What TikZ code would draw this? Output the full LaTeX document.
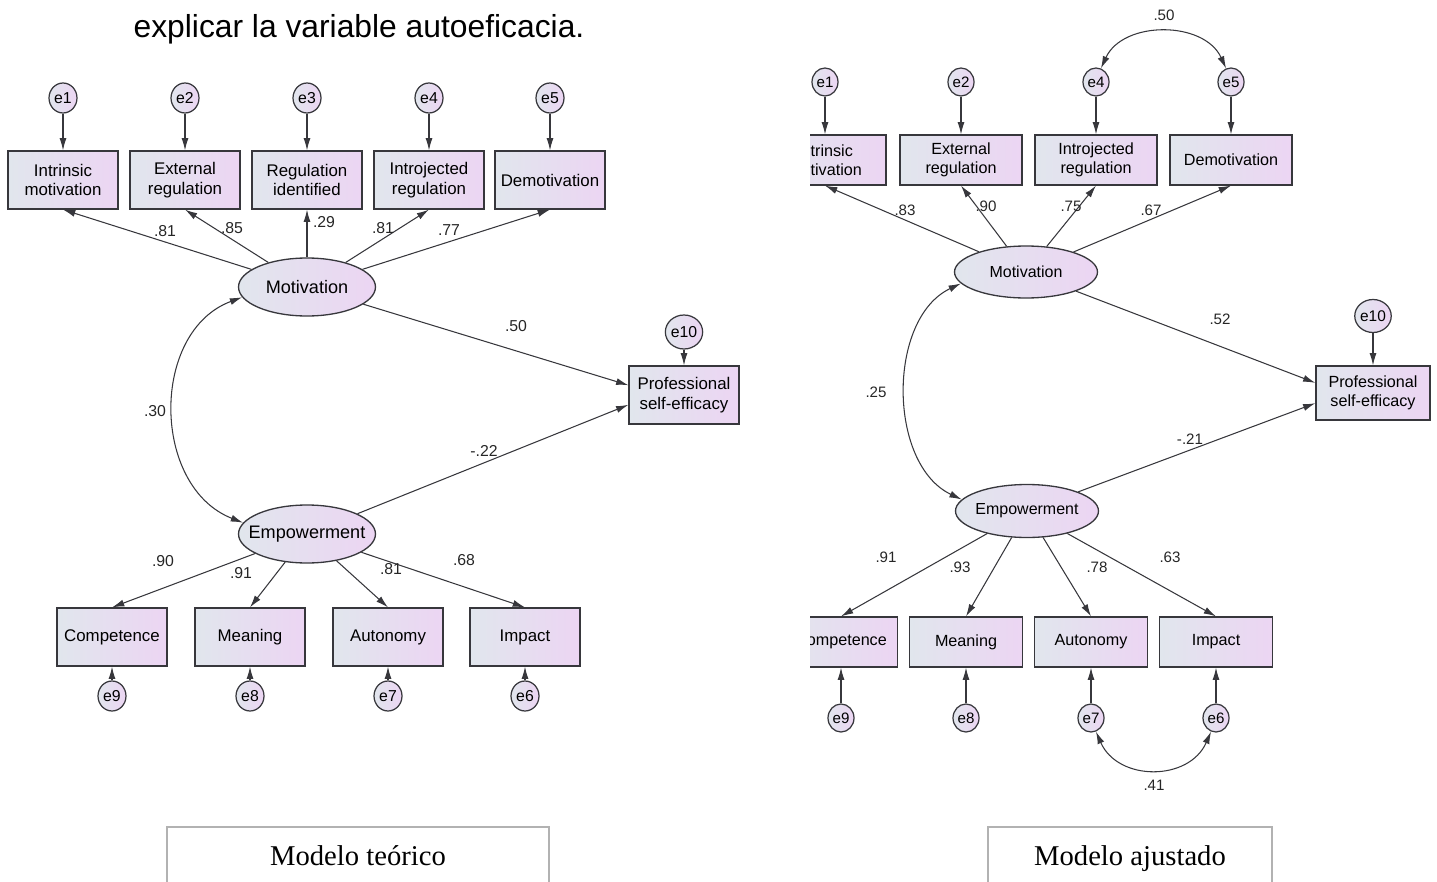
\documentclass[tikz,border=0pt]{standalone}
\usepackage{fontspec}
\setmainfont{Liberation Serif}
\newfontfamily\amosfont{Liberation Sans}
\usetikzlibrary{arrows.meta,shapes.geometric}

\definecolor{boxblue}{RGB}{225,230,237}
\definecolor{boxpink}{RGB}{236,213,243}
\definecolor{amosline}{RGB}{55,55,60}

\tikzset{
  obsbox/.style={draw=amosline, line width=0.7pt, left color=boxblue, right color=boxpink,
    minimum width=2.2cm, minimum height=1.16cm, align=center, inner sep=1pt,
    font=\amosfont\fontsize{9.6}{11.3}\selectfont},
  latent/.style={ellipse, draw=amosline, line width=0.75pt, left color=boxblue, right color=boxpink,
    minimum width=2.74cm, minimum height=1.16cm, inner sep=0pt,
    font=\amosfont\fontsize{10.3}{12}\selectfont},
  errc/.style={ellipse, draw=amosline, line width=0.7pt, left color=boxblue, right color=boxpink,
    minimum width=0.56cm, minimum height=0.6cm, inner sep=0pt,
    font=\amosfont\fontsize{9}{10}\selectfont},
  arr/.style={draw=amosline, line width=0.6pt, -{Latex[length=7pt,width=4pt]}},
  dbl/.style={draw=amosline, line width=0.6pt, {Latex[length=7pt,width=4pt]}-{Latex[length=7pt,width=4pt]}},
  coef/.style={font=\amosfont\fontsize{9}{10}\selectfont, text=black!85, inner sep=0pt},
  capline/.style={draw=black!30, line width=0.8pt}
}

\begin{document}
\begin{tikzpicture}[x=0.02cm, y=-0.02cm]
  \useasboundingbox (0,0) rectangle (1437,882);

  \node[anchor=base, font=\amosfont\fontsize{18.1}{20}\selectfont] (intro) at (359,38)
    {explicar la variable autoeficacia.};

  % ---- modelo teorico ----
  \node[latent] (Lmot) at (307,287) {\makebox[0pt]{Motivation}};
  \node[latent] (Lemp) at (307,534) {\makebox[0pt]{Empowerment}};

  \foreach \x/\n/\txt [count=\i] in {
    63/im/{Intrinsic\\motivation},
    185/er/{External\\regulation},
    307/ri/{Regulation\\identified},
    429/ir/{Introjected\\regulation},
    550/dm/{Demotivation}} {
    \node[obsbox] (L\n) at (\x,180) {\txt};
    \node[errc] (Le\i) at (\x,98) {e\i};
    \draw[arr] (Le\i) -- (L\n);
    \draw[arr] (Lmot) -- (L\n.south);
  }

  \foreach \x/\n/\txt/\e in {
    112/co/Competence/9,
    250/me/Meaning/8,
    388/au/Autonomy/7,
    525/ip/Impact/6} {
    \node[obsbox] (L\n) at (\x,637) {\txt};
    \node[errc] (Le\e) at (\x,696) {e\e};
    \draw[arr] (Le\e) -- (L\n);
    \draw[arr] (Lemp) -- (L\n.north);
  }

  \node[obsbox] (Lpse) at (684,395) {Professional\\self-efficacy};
  \node[errc, minimum width=0.68cm, minimum height=0.68cm] (Le10) at (684,332) {e10};
  \draw[arr] (Le10) -- (Lpse);
  \draw[arr] (Lmot) -- (Lpse.170);
  \draw[arr] (Lemp) -- (Lpse.190);
  \draw[dbl] (Lmot.189) .. controls +(-92,34) and +(-92,-36) .. (Lemp.170);

  \foreach \x/\y/\lab [count=\i] in {
    165/231/.81, 232/228/.85, 324/222/.29, 383/228/.81, 449/230/.77,
    516/326/.50, 484/451/{-.22}, 155/411/.30,
    163/561/.90, 241/573/.91, 391/569/.81, 464/560/.68} {
    \node[coef] (Lk\i) at (\x,\y) {\lab};
  }

  % ---- modelo ajustado ----
  \begin{scope}
    \clip (810,0) rectangle (1437,882);
    \node[latent, minimum width=2.86cm, minimum height=1.04cm,
      font=\amosfont\fontsize{9.1}{11}\selectfont] (Rmot) at (1026,272) {\makebox[0pt]{Motivation}};
    \node[latent, minimum width=2.86cm, minimum height=1.06cm,
      font=\amosfont\fontsize{9.1}{11}\selectfont] (Remp) at (1027,511) {\makebox[0pt]{Empowerment}};

    \foreach \x/\n/\txt/\e in {
      825/im/{Intrinsic\\motivation}/1,
      961/er/{External\\regulation}/2,
      1096/ir/{Introjected\\regulation}/4,
      1231/dm/{Demotivation}/5} {
      \node[obsbox, minimum width=2.44cm, minimum height=1cm,
        font=\amosfont\fontsize{9.2}{10.8}\selectfont] (R\n) at (\x,160) {\txt};
      \node[errc, minimum width=0.52cm, minimum height=0.56cm,
        font=\amosfont\fontsize{8.6}{10}\selectfont] (Re\e) at (\x,82) {e\e};
      \draw[arr] (Re\e) -- (R\n);
      \draw[arr] (Rmot) -- (R\n.south);
    }

    \foreach \x/\n/\txt/\e in {
      841/co/Competence/9,
      966/me/Meaning/8,
      1091/au/Autonomy/7,
      1216/ip/Impact/6} {
      \node[obsbox, minimum width=2.26cm, minimum height=1cm,
        font=\amosfont\fontsize{9.2}{10.8}\selectfont] (R\n) at (\x,642) {\txt};
      \node[errc, minimum width=0.52cm, minimum height=0.56cm,
        font=\amosfont\fontsize{8.6}{10}\selectfont] (Re\e) at (\x,718) {e\e};
      \draw[arr] (Re\e) -- (R\n);
      \draw[arr] (Remp) -- (R\n.north);
    }

    \node[obsbox, minimum width=2.28cm, minimum height=1.08cm,
      font=\amosfont\fontsize{9.2}{10.8}\selectfont] (Rpse) at (1373,393) {Professional\\self-efficacy};
    \node[errc, minimum width=0.66cm, minimum height=0.66cm,
      font=\amosfont\fontsize{8.8}{10}\selectfont] (Re10) at (1373,316) {e10};
    \draw[arr] (Re10) -- (Rpse);
    \draw[arr] (Rmot) -- (Rpse.170);
    \draw[arr] (Remp) -- (Rpse.190);
    \draw[dbl] (Rmot.190) .. controls +(-74,35) and +(-74,-35) .. (Remp.170);
    \draw[dbl] (Re4.70) .. controls +(22,-48) and +(-22,-48) .. (Re5.110);
    \draw[dbl] (Re7.-70) .. controls +(22,50) and +(-22,50) .. (Re6.-110);

    \foreach \x/\y/\lab [count=\i] in {
      905/210/.83, 986/206/.90, 1071/206/.75, 1151/210/.67,
      1220/319/.52, 1190/439/{-.21}, 876/392/.25, 1164/15/.50,
      886/557/.91, 960/567/.93, 1097/567/.78, 1170/557/.63, 1154/785/.41} {
      \node[coef, font=\amosfont\fontsize{8.6}{10}\selectfont] (Rk\i) at (\x,\y) {\lab};
    }
  \end{scope}

  % ---- captions ----
  \draw[capline] (167,882) |- (549,827) -- (549,882);
  \node[anchor=base, font=\fontsize{16.3}{18}\selectfont] (capL) at (358,865) {Modelo teórico};
  \draw[capline] (988,882) |- (1272,827) -- (1272,882);
  \node[anchor=base, font=\fontsize{16.3}{18}\selectfont] (capR) at (1130,865) {Modelo ajustado};
\end{tikzpicture}
\end{document}
